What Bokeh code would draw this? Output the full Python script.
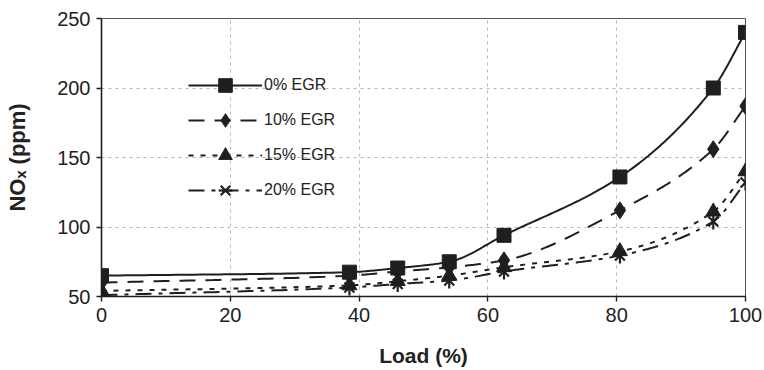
import numpy as np
from bokeh.plotting import figure
from bokeh.models import Range1d, FixedTicker, Legend, LegendItem
from bokeh.embed import file_html
from bokeh.resources import INLINE

# Engine load (%) and NOx emissions (ppm) at each EGR rate
load = [0, 38.5, 46, 54, 62.5, 80.5, 95, 100]
nox_egr0 = [65, 67.5, 70.5, 75, 94, 136, 200, 240]
nox_egr10 = [60, 65, 68, 71, 76, 112, 156, 187]
nox_egr15 = [54, 58, 61, 65, 71, 82.5, 111, 140]
nox_egr20 = [51, 56.5, 59, 61.5, 68, 79.5, 104, 132]

series_names = ["0% EGR", "10% EGR", "15% EGR", "20% EGR"]
x_ticks = [0, 20, 40, 60, 80, 100]
y_ticks = [50, 100, 150, 200, 250]

FONT = "Liberation Sans"
INK = "#1f1f1f"


def pchip(xs, ys, n=40):
    """Monotone cubic (Fritsch-Carlson) curve through the points."""
    xs = np.asarray(xs, float)
    ys = np.asarray(ys, float)
    h = np.diff(xs)
    d = np.diff(ys) / h
    m = np.zeros_like(ys)
    for i in range(1, len(xs) - 1):
        if d[i - 1] * d[i] > 0:
            w1 = 2 * h[i] + h[i - 1]
            w2 = h[i] + 2 * h[i - 1]
            m[i] = (w1 + w2) / (w1 / d[i - 1] + w2 / d[i])
    m[0] = d[0]
    m[-1] = d[-1]
    out_x, out_y = [], []
    for i in range(len(xs) - 1):
        t = np.linspace(0, 1, n, endpoint=(i == len(xs) - 2))
        h00 = 2 * t**3 - 3 * t**2 + 1
        h10 = t**3 - 2 * t**2 + t
        h01 = -2 * t**3 + 3 * t**2
        h11 = t**3 - t**2
        out_x.extend(xs[i] + t * h[i])
        out_y.extend(h00 * ys[i] + h10 * h[i] * m[i] + h01 * ys[i + 1] + h11 * h[i] * m[i + 1])
    return out_x, out_y


p = figure(width=764, height=370, output_backend="svg", toolbar_location=None,
           x_range=Range1d(0, 100), y_range=Range1d(50, 250),
           min_border_left=101, min_border_right=19, min_border_top=18, min_border_bottom=74)
p.background_fill_color = "white"
p.border_fill_color = "white"
p.outline_line_color = "#555555"
p.outline_line_width = 1

for ax in (p.xaxis, p.yaxis):
    ax.axis_line_color = INK
    ax.axis_line_width = 1.6
    ax.major_tick_line_color = INK
    ax.major_tick_line_width = 1.4
    ax.major_tick_out = 5
    ax.major_tick_in = 0
    ax.minor_tick_line_color = None
    ax.major_label_text_font = FONT
    ax.major_label_text_font_size = "20px"
    ax.major_label_text_color = "#222222"
    ax.major_label_standoff = 6
    ax.axis_label_text_font = FONT
    ax.axis_label_text_font_style = "bold"
    ax.axis_label_text_color = "#222222"

p.xaxis.ticker = FixedTicker(ticks=x_ticks)
p.yaxis.ticker = FixedTicker(ticks=y_ticks)
p.xaxis.axis_label = "Load (%)"
p.xaxis.axis_label_text_font_size = "21px"
p.xaxis.axis_label_standoff = 19
p.yaxis.axis_label = "NO\u2093 (ppm)"
p.yaxis.axis_label_text_font_size = "22px"
p.yaxis.axis_label_standoff = 24

p.grid.grid_line_color = "#b5b5b5"
p.grid.grid_line_dash = "3 4"
p.grid.grid_line_width = 1
p.xgrid.ticker = FixedTicker(ticks=[20, 40, 60, 80])
p.ygrid.ticker = FixedTicker(ticks=[100, 150, 200])

styles = [
    (nox_egr0, "solid", "square"),
    (nox_egr10, "16 10", "diamond"),
    (nox_egr15, "5 7", "triangle"),
    (nox_egr20, "16 7 4 7", "star6"),
]

items = []
for name, (vals, dash, mk) in zip(series_names, styles):
    cx, cy = pchip(load, vals)
    ln = p.line(cx, cy, line_color=INK, line_width=2, line_dash=dash)
    renderers = [ln]
    if mk == "star6":
        # six-armed star: an x crossed by a vertical bar
        renderers.append(p.scatter(load, vals, marker="x", size=14, line_color=INK, line_width=2.2))
        renderers.append(p.scatter(load, vals, marker="dash", angle=np.pi / 2, size=16,
                                   line_color=INK, line_width=2.2))
    else:
        size = {"square": 14, "diamond": 17, "triangle": 15}[mk]
        renderers.append(p.scatter(load, vals, marker=mk, size=size, fill_color=INK,
                                   line_color=INK, line_width=1))
    items.append(LegendItem(label=name, renderers=renderers))

legend = Legend(items=items, location=(87, 89), orientation="vertical")
legend.background_fill_alpha = 0
legend.border_line_color = None
legend.glyph_width = 74
legend.glyph_height = 34
legend.label_text_font = FONT
legend.label_text_font_size = "16px"
legend.label_text_color = "#222222"
legend.label_standoff = 2
legend.spacing = 1
legend.padding = 0
legend.margin = 0
p.add_layout(legend, "center")

open("out.html", "w").write(file_html(p, INLINE))
